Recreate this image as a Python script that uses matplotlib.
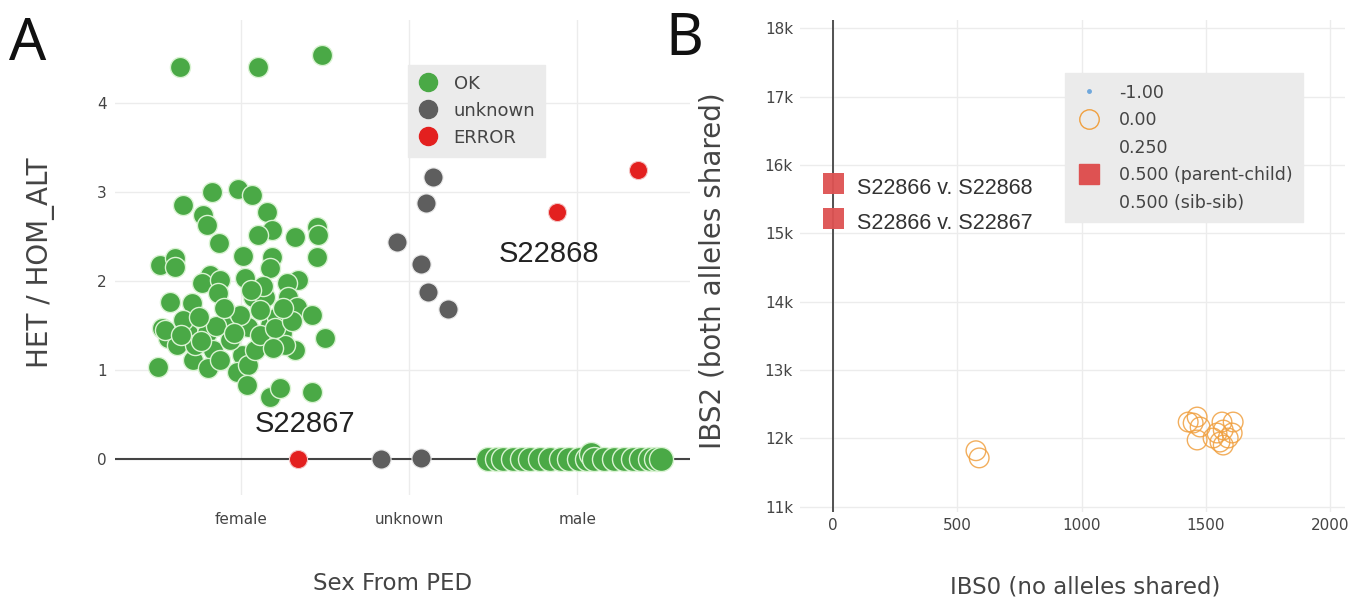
import matplotlib
matplotlib.use("Agg")
import matplotlib.pyplot as plt
from matplotlib.lines import Line2D
from matplotlib.ticker import FuncFormatter

# ---------------- Panel A data ----------------
categories = ["female", "unknown", "male"]

female_ok_x = [-0.363, 0.101, 0.482,
               -0.345, -0.173, -0.018, 0.065, -0.226, -0.202, -0.131, 0.155, 0.185, 0.101,
               0.321, 0.452, 0.458, 0.452, -0.482, -0.393, -0.393, 0.012, 0.185, 0.173,
               -0.185, -0.232, -0.125, 0.024, 0.339, 0.274, -0.423, -0.292, -0.137, 0.071,
               0.143, 0.280, 0.333, 0.423, 0.500, -0.470, -0.435, -0.381, -0.315, -0.202,
               -0.286, -0.167, -0.196, -0.083, 0.042, 0.173, 0.214, 0.244, 0.155, 0.006,
               -0.024, 0.042, 0.036, 0.173, 0.232, 0.423, 0.321, -0.345, -0.065, -0.494,
               -0.274, 0.083, -0.125, 0.113, -0.006, 0.262,
               -0.455, -0.360, -0.240, -0.150, -0.040, 0.110, 0.200, 0.300, 0.130,
               -0.250, 0.060, 0.250, 0.190, -0.100]
female_ok_y = [4.40, 4.40, 4.54,
               2.854, 3.000, 3.034, 2.966, 2.742, 2.629, 2.427, 2.775, 2.573, 2.517,
               2.494, 2.607, 2.517, 2.270, 2.180, 2.258, 2.157, 2.281, 2.270, 2.146,
               2.067, 1.978, 2.011, 2.034, 2.011, 1.978, 1.764, 1.753, 1.865, 1.820,
               1.820, 1.820, 1.708, 1.618, 1.360, 1.472, 1.360, 1.281, 1.416, 1.416,
               1.112, 1.225, 1.022, 1.483, 1.483, 1.506, 1.596, 1.416, 1.315, 1.169,
               0.978, 1.056, 0.831, 0.697, 0.798, 0.753, 1.225, 1.562, 1.337, 1.034,
               1.281, 1.225, 1.112, 1.674, 1.618, 1.281,
               1.450, 1.400, 1.330, 1.500, 1.420, 1.400, 1.470, 1.550, 1.950,
               1.600, 1.900, 1.700, 1.250, 1.700]

male_ok_x = [1.47, 1.52, 1.56, 1.62, 1.67, 1.72, 1.78, 1.84, 1.90, 1.95, 2.01,
             2.06, 2.08, 2.10, 2.16, 2.22, 2.28, 2.33, 2.38, 2.43, 2.47, 2.50]
male_ok_y = [0, 0, 0, 0, 0, 0, 0, 0, 0, 0, 0,
             0, 0.06, 0, 0, 0, 0, 0, 0, 0, 0, 0]

unknown_x = [1.14, 1.10, 0.93, 1.07, 1.11, 1.23, 0.83, 1.07]
unknown_y = [3.17, 2.88, 2.44, 2.19, 1.88, 1.69, 0.0, 0.01]

error_x = [0.34, 1.88, 2.36]
error_y = [0.0, 2.78, 3.25]
error_labels = ["S22867", "S22868", ""]

a_yticks = [0, 1, 2, 3, 4]

# ---------------- Panel B data ----------------
pc_ibs0 = [0, 0]
pc_ibs2 = [15734, 15222]
pc_labels = ["S22866 v. S22868", "S22866 v. S22867"]

unrel_ibs0 = [575, 588, 1429, 1465, 1449, 1477, 1465, 1565, 1610, 1545, 1570,
              1590, 1557, 1606, 1570, 1529]
unrel_ibs2 = [11820, 11715, 12240, 12313, 12225, 12167, 11977, 12240, 12240,
              12079, 12123, 12006, 11947, 12079, 11903, 12006]

b_xticks = [0, 500, 1000, 1500, 2000]
b_yticks = [11000, 12000, 13000, 14000, 15000, 16000, 17000, 18000]
b_legend_labels = ["-1.00", "0.00", "0.250", "0.500 (parent-child)", "0.500 (sib-sib)"]

# ---------------- styling ----------------
GREEN = "#4aa946"
GREEN_EDGE = "#d9f3d2"
GRAY = "#5e5e5e"
RED = "#e3201f"
SQ_RED = "#de5252"
ORANGE = "#f0a040"
GRID = "#ececec"
TICK = "#444444"
LEG_BG = "#ebebeb"

W, H = 1367, 605
fig = plt.figure(figsize=(W / 100, H / 100), dpi=100)

def ax_rect(l, t, r, b):
    return [l / W, 1 - b / H, (r - l) / W, (b - t) / H]

# ================= Panel A =================
axA = fig.add_axes(ax_rect(115, 20, 690, 495))
cat_pos = list(range(len(categories)))
axA.set_xlim(-0.75, 2.67)
axA.set_ylim(-0.40, 4.93)
for s in axA.spines.values():
    s.set_visible(False)
axA.set_xticks(cat_pos)
axA.set_xticklabels(categories)
axA.set_yticks(a_yticks)
axA.tick_params(length=0, labelsize=11, labelcolor=TICK)
axA.tick_params(axis="x", pad=12)
axA.tick_params(axis="y", pad=6)
axA.grid(True, color=GRID, lw=1)
axA.set_axisbelow(True)
axA.axhline(0, color="#444444", lw=1.5, zorder=1)

fx = [cat_pos[0] + v for v in female_ok_x]
axA.scatter(fx, female_ok_y, s=210, c=GREEN, edgecolors=GREEN_EDGE, linewidths=1, zorder=3)
axA.scatter(male_ok_x, male_ok_y, s=300, c=GREEN, edgecolors=GREEN_EDGE, linewidths=1, zorder=3)
axA.scatter(unknown_x, unknown_y, s=190, c=GRAY, edgecolors="#e8e8e8", linewidths=0.8, zorder=3)
axA.scatter(error_x, error_y, s=170, c=RED, edgecolors="#f4c4c4", linewidths=0.8, zorder=4)

label_offsets = [(0.04, 0.40), (-0.05, -0.48), (0, 0)]
for x, y, t, (dx, dy) in zip(error_x, error_y, error_labels, label_offsets):
    if t:
        axA.text(x + dx, y + dy, t, fontsize=21, family="Liberation Sans",
                 color="#222222", ha="center", va="center", zorder=5)

axA.set_xlabel("Sex From PED", fontsize=16.5, color="#444444", family="DejaVu Sans")
axA.xaxis.set_label_coords(0.483, -0.163)
axA.set_ylabel("HET / HOM_ALT", fontsize=20, color="#444444", family="DejaVu Sans")
axA.yaxis.set_label_coords(-0.104, 0.49)

legA_handles = [
    Line2D([], [], ls="", marker="o", ms=13, mfc=GREEN, mec=GREEN),
    Line2D([], [], ls="", marker="o", ms=13, mfc=GRAY, mec=GRAY),
    Line2D([], [], ls="", marker="o", ms=13, mfc=RED, mec=RED),
]
legA = axA.legend(legA_handles, ["OK", "unknown", "ERROR"], loc="upper left",
                  bbox_to_anchor=(0.509, 0.906), frameon=True, fancybox=False,
                  facecolor=LEG_BG, edgecolor=LEG_BG, framealpha=1,
                  fontsize=13, labelspacing=0.5, handletextpad=0.9,
                  borderpad=0.55, handlelength=1.1, borderaxespad=0)
for t in legA.get_texts():
    t.set_color(TICK)

fig.text(9 / W, 1 - 60 / H, "A", fontsize=42, family="Noto Sans", fontweight="light",
         color="#111111")

# ================= Panel B =================
axB = fig.add_axes(ax_rect(800, 20, 1345, 512))
axB.set_xlim(-133, 2060)
axB.set_ylim(10924, 18120)
for s in axB.spines.values():
    s.set_visible(False)
axB.set_xticks(b_xticks)
axB.set_yticks(b_yticks)
axB.yaxis.set_major_formatter(FuncFormatter(lambda v, p: f"{int(round(v / 1000))}k"))
axB.tick_params(length=0, labelsize=11, labelcolor=TICK)
axB.tick_params(axis="x", pad=4)
axB.tick_params(axis="y", pad=5)
axB.grid(True, color=GRID, lw=1)
axB.set_axisbelow(True)
axB.axvline(0, color="#444444", lw=1.3, zorder=1)

axB.scatter(unrel_ibs0, unrel_ibs2, s=200, facecolors="none", edgecolors=ORANGE,
            linewidths=1, alpha=0.85, zorder=3)
axB.scatter(pc_ibs0, pc_ibs2, s=230, marker="s", c=SQ_RED, edgecolors="none",
            alpha=0.95, zorder=4)
for x, y, t in zip(pc_ibs0, pc_ibs2, pc_labels):
    axB.text(x + 95, y - 80, t, fontsize=15.5, family="Liberation Sans",
             color="#333333", ha="left", va="center", zorder=5)

axB.set_xlabel("IBS0 (no alleles shared)", fontsize=16.5, color="#444444", family="DejaVu Sans")
axB.xaxis.set_label_coords(0.523, -0.130)
axB.set_ylabel("IBS2 (both alleles shared)", fontsize=20, color="#444444", family="DejaVu Sans")
axB.yaxis.set_label_coords(-0.135, 0.49)

legB_handles = [
    Line2D([], [], ls="", marker="o", ms=2.5, mfc="#6fa8dc", mec="#6fa8dc"),
    Line2D([], [], ls="", marker="o", ms=14, mfc="none", mec=ORANGE, mew=1),
    Line2D([], [], ls="", marker="", ms=1),
    Line2D([], [], ls="", marker="s", ms=14, mfc=SQ_RED, mec=SQ_RED),
    Line2D([], [], ls="", marker="", ms=1),
]
legB = axB.legend(legB_handles, b_legend_labels, loc="upper left",
                  bbox_to_anchor=(0.486, 0.892), frameon=True, fancybox=False,
                  facecolor=LEG_BG, edgecolor=LEG_BG, framealpha=1,
                  fontsize=12.5, labelspacing=0.55, handletextpad=0.9,
                  borderpad=0.6, handlelength=1.6, borderaxespad=0)
for t in legB.get_texts():
    t.set_color(TICK)

fig.text(665 / W, 1 - 55 / H, "B", fontsize=42, family="Noto Sans", fontweight="light",
         color="#111111")

fig.savefig("out.png", dpi=100, facecolor="white")
